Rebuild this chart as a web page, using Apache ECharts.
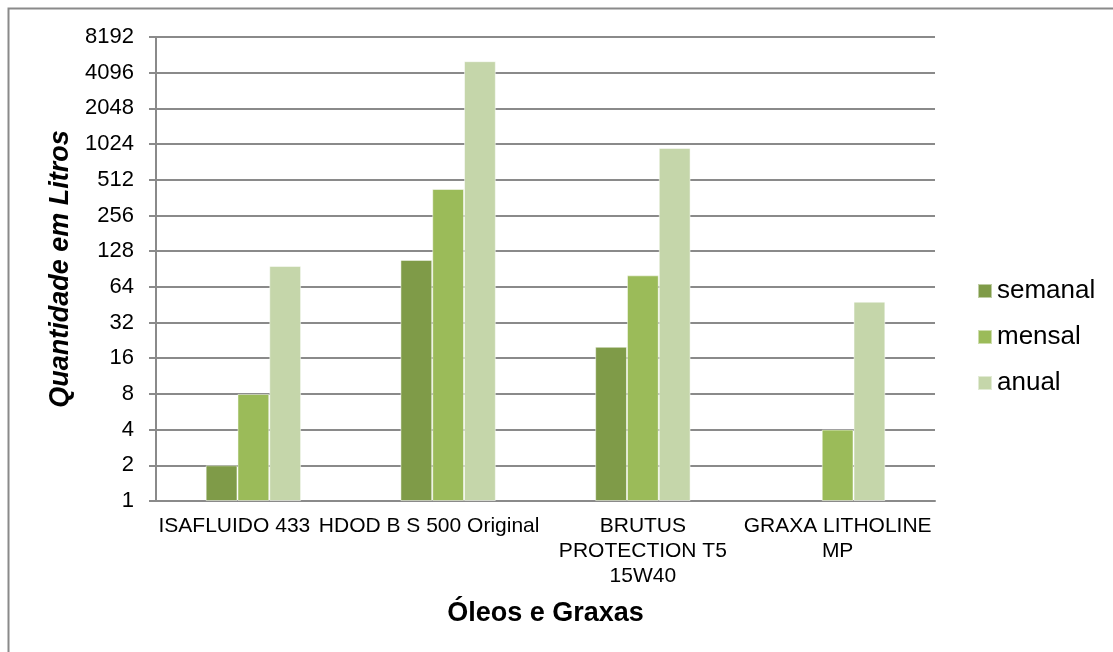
<!DOCTYPE html>
<html><head><meta charset="utf-8">
<script src="https://cdn.jsdelivr.net/npm/echarts@6/dist/echarts.min.js"></script>
<style>html,body{margin:0;padding:0;background:#fff}#c{width:1113px;height:652px}</style>
</head><body><div id="c"></div>
<script>
const categories = ['ISAFLUIDO 433', 'HDOD B S 500 Original', 'BRUTUS\nPROTECTION T5\n15W40', 'GRAXA LITHOLINE\nMP'];
const semanal = [2, 108, 20, null];
const mensal = [8, 428, 80, 4];
const anual = [96, 5120, 950, 48];
const seriesNames = ['semanal', 'mensal', 'anual'];
const colors = ['#7f9b48', '#9bbb59', '#c5d6aa'];

const labelShift = [38, 38, 0, 0];
const catData = categories.map((c, i) => ({value: c, textStyle: {padding: [0, labelShift[i], 0, 0]}}));

const chart = echarts.init(document.getElementById('c'), null, {renderer: 'canvas'});
const font = 'Liberation Sans, Arial, sans-serif';
chart.setOption({
  animation: false,
  textStyle: {fontFamily: font},
  graphic: [{type: 'rect', shape: {x: 8.5, y: 8.5, width: 1200, height: 700},
    style: {fill: 'none', stroke: '#8a8a8a', lineWidth: 2}, silent: true}],
  grid: {left: 156, right: 178, top: 37, bottom: 151, containLabel: false},
  legend: {
    orient: 'vertical', left: 977, top: 278, padding: 0, itemWidth: 14, itemHeight: 14, itemGap: 20,
    icon: 'rect', data: seriesNames,
    textStyle: {fontSize: 26, color: '#000', fontFamily: font}
  },
  xAxis: {
    type: 'category', data: catData,
    name: 'Óleos e Graxas', nameLocation: 'middle', nameGap: 99,
    nameTextStyle: {fontSize: 27, fontWeight: 'bold', color: '#000', fontFamily: font},
    axisLine: {lineStyle: {color: '#8a8a8a', width: 2}},
    axisTick: {show: false},
    axisLabel: {interval: 0, fontSize: 21, color: '#000', lineHeight: 25, margin: 13, fontFamily: font}
  },
  yAxis: {
    type: 'log', logBase: 2, min: 1, max: 8192, interval: 1,
    name: 'Quantidade em Litros', nameLocation: 'middle', nameGap: 82,
    nameTextStyle: {fontSize: 27, fontWeight: 'bold', fontStyle: 'italic', color: '#000', fontFamily: font},
    axisLine: {show: true, lineStyle: {color: '#8a8a8a', width: 2}},
    axisTick: {show: true, length: 7, lineStyle: {color: '#8a8a8a', width: 2}},
    axisLabel: {fontSize: 22, color: '#000', margin: 22, fontFamily: font,
      formatter: v => String(Math.round(v))},
    splitLine: {show: true, lineStyle: {color: '#8a8a8a', width: 2}}
  },
  series: [
    {name: seriesNames[0], type: 'bar', data: semanal, barGap: '0%', barCategoryGap: '51%',
     itemStyle: {color: colors[0], borderColor: 'rgba(255,255,255,0.5)', borderWidth: 1}},
    {name: seriesNames[1], type: 'bar', data: mensal,
     itemStyle: {color: colors[1], borderColor: 'rgba(255,255,255,0.5)', borderWidth: 1}},
    {name: seriesNames[2], type: 'bar', data: anual,
     itemStyle: {color: colors[2], borderColor: 'rgba(255,255,255,0.5)', borderWidth: 1}}
  ]
});
</script></body></html>
